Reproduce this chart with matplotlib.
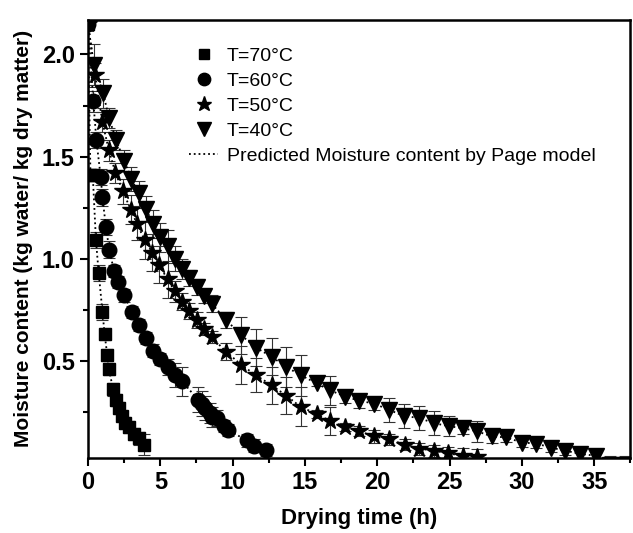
import numpy as np
import matplotlib
matplotlib.use("Agg")
import matplotlib.pyplot as plt
from matplotlib.ticker import MultipleLocator

plt.rcParams['font.family'] = ['Liberation Sans', 'DejaVu Sans']

# drying data: time (h), moisture (kg water/kg dm), error
t70 = [0, 0.17, 0.33, 0.55, 0.74, 1.0, 1.15, 1.33, 1.43, 1.75, 1.93, 2.12, 2.35, 2.56, 2.84, 3.2, 3.5, 3.9]
m70 = [2.15, 1.41, 1.41, 1.09, 0.93, 0.74, 0.63, 0.53, 0.46, 0.36, 0.31, 0.27, 0.23, 0.195, 0.175, 0.14, 0.12, 0.09]
e70 = [0.03, 0.03, 0.03, 0.04, 0.04, 0.04, 0.03, 0.03, 0.03, 0.03, 0.03, 0.03, 0.02, 0.03, 0.03, 0.03, 0.03, 0.05]

t60 = [0, 0.37, 0.58, 0.88, 1.0, 1.24, 1.47, 1.8, 2.07, 2.49, 3.04, 3.5, 4.0, 4.5, 5.0, 5.5, 6.0, 6.5,
       7.6, 7.85, 8.1, 8.4, 8.6, 8.9, 9.4, 9.7, 11.0, 11.5, 12.3]
m60 = [2.15, 1.77, 1.58, 1.40, 1.30, 1.155, 1.045, 0.94, 0.885, 0.82, 0.74, 0.675, 0.61, 0.55, 0.51, 0.47,
       0.43, 0.40, 0.31, 0.29, 0.27, 0.245, 0.225, 0.22, 0.18, 0.16, 0.11, 0.085, 0.065]
e60 = [0.03, 0.05, 0.04, 0.04, 0.04, 0.04, 0.04, 0.03, 0.03, 0.03, 0.03, 0.03, 0.03, 0.03, 0.03, 0.04,
       0.06, 0.07, 0.06, 0.06, 0.06, 0.05, 0.05, 0.04, 0.03, 0.03, 0.03, 0.03, 0.03]

t50 = [0, 0.5, 0.99, 1.45, 1.9, 2.42, 2.95, 3.4, 3.92, 4.45, 4.9, 5.5, 6.0, 6.5, 7.0, 7.55, 8.05, 8.55,
       9.55, 10.6, 11.6, 12.7, 13.7, 14.7, 15.8, 16.75, 17.8, 18.75, 19.8, 20.8, 21.9, 22.9, 23.9, 24.9,
       25.9, 26.9]
m50 = [2.15, 1.9, 1.67, 1.53, 1.42, 1.33, 1.24, 1.17, 1.09, 1.03, 0.97, 0.90, 0.84, 0.79, 0.745, 0.70,
       0.655, 0.615, 0.545, 0.48, 0.43, 0.38, 0.33, 0.275, 0.24, 0.205, 0.175, 0.155, 0.13, 0.115, 0.09,
       0.07, 0.06, 0.047, 0.035, 0.03]
e50 = [0.03, 0.06, 0.05, 0.05, 0.05, 0.06, 0.07, 0.08, 0.09, 0.09, 0.09, 0.09, 0.05, 0.04, 0.04, 0.04,
       0.03, 0.03, 0.04, 0.095, 0.085, 0.09, 0.09, 0.095, 0.02, 0.07, 0.02, 0.025, 0.03, 0.025, 0.025,
       0.03, 0.03, 0.03, 0.04, 0.04]

t40 = [0, 0.4, 1.05, 1.45, 1.95, 2.5, 3.0, 3.5, 4.0, 4.5, 5.0, 5.5, 6.0, 6.5, 7.0, 7.55, 8.05, 8.55,
       9.55, 10.6, 11.6, 12.7, 13.7, 14.7, 15.8, 16.75, 17.8, 18.75, 19.8, 20.8, 21.85, 22.9, 23.9,
       24.95, 25.9, 26.9, 27.9, 28.9, 30.0, 31.0, 32.0, 33.0, 34.0, 35.1, 36.1, 37.1]
m40 = [2.15, 1.95, 1.81, 1.69, 1.58, 1.48, 1.39, 1.32, 1.245, 1.17, 1.105, 1.06, 1.0, 0.95, 0.905, 0.86,
       0.815, 0.78, 0.70, 0.625, 0.565, 0.52, 0.47, 0.43, 0.39, 0.355, 0.325, 0.305, 0.29, 0.26, 0.23,
       0.22, 0.195, 0.18, 0.17, 0.155, 0.13, 0.125, 0.10, 0.095, 0.075, 0.06, 0.045, 0.035, -0.01, -0.01]
e40 = [0.03, 0.10, 0.07, 0.05, 0.05, 0.05, 0.06, 0.06, 0.06, 0.07, 0.07, 0.08, 0.06, 0.05, 0.04, 0.04,
       0.03, 0.04, 0.04, 0.09, 0.09, 0.09, 0.10, 0.10, 0.015, 0.07, 0.03, 0.035, 0.03, 0.06, 0.06, 0.06,
       0.06, 0.05, 0.03, 0.05, 0.03, 0.02, 0.02, 0.02, 0.02, 0.02, 0.02, 0.02, 0.045, 0.045]

series = [
    (t70, m70, e70, 's', 9, 'T=70°C'),
    (t60, m60, e60, 'o', 10.5, 'T=60°C'),
    (t50, m50, e50, '*', 13, 'T=50°C'),
    (t40, m40, e40, 'v', 12, 'T=40°C'),
]

fig = plt.figure(figsize=(6.33, 5.33), dpi=100)
ax = fig.add_axes([0.139, 0.141, 0.857, 0.822])

for t, m, e, mk, ms, lab in series:
    ax.errorbar(t, m, yerr=e, fmt='none', ecolor='#333333', elinewidth=0.8,
                capsize=4, capthick=0.8, zorder=2)
    ax.plot(t, m, linestyle=':', color='black', linewidth=1.3, zorder=3)
    ax.plot(t, m, linestyle='none', marker=mk, markersize=ms, color='black', zorder=4)

# legend handles (smaller markers than in the plot)
leg_h = [plt.Line2D([], [], linestyle='none', marker=mk, markersize=ms * 0.85, color='black')
         for _, _, _, mk, ms, _ in series]
leg_h.append(plt.Line2D([], [], linestyle=':', color='black', linewidth=1.3))
leg_l = [s[5] for s in series] + ['Predicted Moisture content by Page model']
ax.legend(leg_h, leg_l, loc='upper left', bbox_to_anchor=(0.172, 0.955), frameon=False,
          fontsize=14, handlelength=1.5, handletextpad=0.45, labelspacing=0.38, borderaxespad=0)

ax.set_xlim(0, 37.5)
ax.set_ylim(0.025, 2.17)
ax.xaxis.set_major_locator(MultipleLocator(5))
ax.xaxis.set_minor_locator(MultipleLocator(2.5))
ax.yaxis.set_major_locator(MultipleLocator(0.5))
ax.yaxis.set_minor_locator(MultipleLocator(0.25))
ax.tick_params(which='both', direction='out', width=1.5, top=False, right=False)
ax.tick_params(which='major', length=6, labelsize=17)
ax.tick_params(which='minor', length=3.5)
for lbl in ax.get_xticklabels() + ax.get_yticklabels():
    lbl.set_fontweight('bold')
for sp in ax.spines.values():
    sp.set_linewidth(1.8)

ax.set_xlabel('Drying time (h)', fontsize=16, fontweight='bold', labelpad=10)
ax.set_ylabel('Moisture content (kg water/ kg dry matter)', fontsize=15, fontweight='bold', labelpad=6)

fig.savefig('out.png', dpi=100)
